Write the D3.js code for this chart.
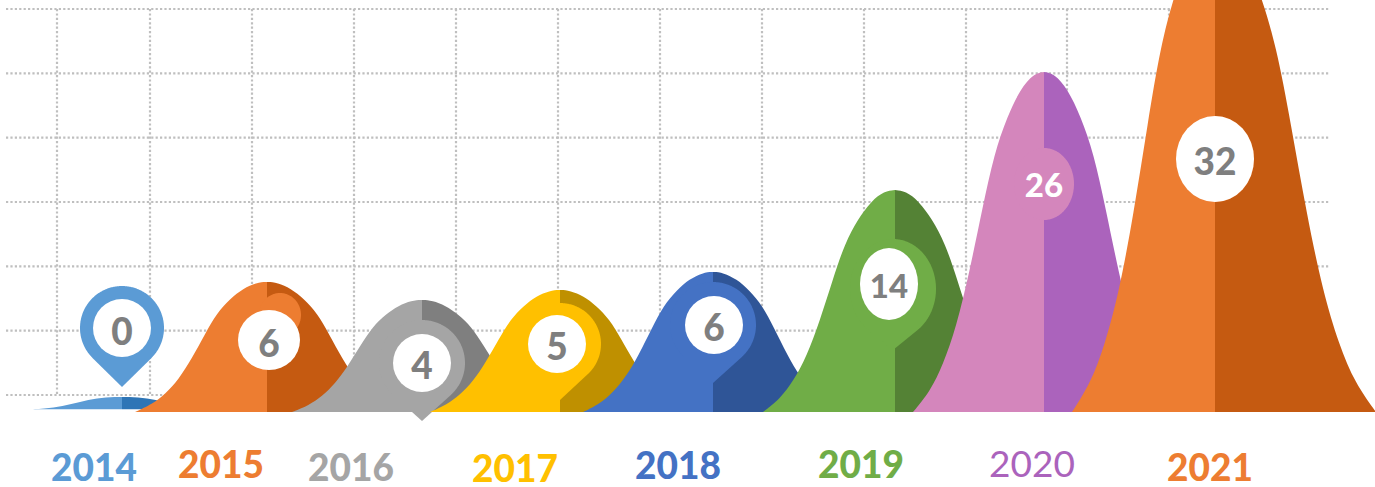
<!DOCTYPE html>
<html><head><meta charset="utf-8">
<script src="https://cdn.jsdelivr.net/npm/d3@7"></script>
<style>html,body{margin:0;padding:0;background:#fff;overflow:hidden}svg{display:block}text{font-family:Lato,"Open Sans",sans-serif}</style>
</head><body><svg id="c" width="1375" height="487"></svg>
<script>
const years = ["2014","2015","2016","2017","2018","2019","2020","2021"];
const values = [0,6,4,5,6,14,26,32];
// hump centre / half widths (page units) and peak height in grid steps
const humpCentres = [122,267,422,560,713,895,1044,1215];
const humpLeft = [89,132,130,130,130,132,131,143];
const humpRight = [89,132,130,130,130,132,131,161];
const humpPeaks = [-0.03,1.757,1.477,1.632,1.912,3.186,5.02,7.23];
const humpBases = [-0.22,-0.265,-0.265,-0.265,-0.265,-0.265,-0.265,-0.265];
const lightColours = ["#5B9BD5","#ED7D31","#A5A5A5","#FFC000","#4472C4","#70AD47","#D486BC","#ED7D31"];
const darkColours = ["#2E75B6","#C55A11","#7F7F7F","#BF9000","#2F5597","#548235","#AB63BC","#C55A11"];
// pin markers
const pinX = [122,280,422,560,713,893,1044,1215];
const pinY = [328,315,363,344,325,289,184,159];
const pinRx = [42,21,43,41,43,43,30,39];
const pinRy = [42,22,43,41,43,50,36,43];
const pinTip = [387,null,421,400,383,350,null,null];
const discX = [122,269,422,557,714,889,null,1215];
const discY = [328,340,363,344,325,284,null,159];
const discRx = [29,31,29,29,29,29,null,39];
const discRy = [29,30,29,29,29,36,null,43];
const valueX = [122,269,422,557,714,889,1044,1215];
const valueY = [330,342,364,345,326,285,184,160];
const valueSizes = [37,37,37,37,37,33,33,37];
const valueColours = ["#7F7F7F","#7F7F7F","#7F7F7F","#7F7F7F","#7F7F7F","#7F7F7F","#FFFFFF","#7F7F7F"];
// year labels
const labelX = [94,221,351,515,678,861,1032,1210];
const labelY = [481,478,481,482,479,478,477,481];
const labelColours = ["#5B9BD5","#ED7D31","#A5A5A5","#FFC000","#4472C4","#70AD47","#AB63BC","#ED7D31"];
const labelWeights = [900,900,900,900,900,900,400,900];
// hump outline control points: distance from centre vs. fraction of height
const profileT = [0,0.08,0.18,0.28,0.38,0.47,0.57,0.67,0.77,0.87,1];
const profileF = [1,0.995,0.95,0.87,0.76,0.60,0.41,0.25,0.14,0.06,0];
const gridTicks = [0,1,2,3,4,5,6];
const gridColumns = [57,150,252,354,456,558,660,762,864,966,1067,1169];

const svg = d3.select("#c");
const x = d3.scaleLinear().domain([0,1375]).range([0,1375]);
const y = d3.scaleLinear().domain([0,6]).range([395,9]);

const grid = svg.append("g").attr("stroke","#BFBFBF").attr("stroke-width",2.2).attr("stroke-dasharray","2.2 2.2").attr("fill","none");
grid.selectAll("line.h").data(gridTicks).join("line").attr("class","h")
  .attr("x1",x(6)).attr("x2",x(1330)).attr("y1",d=>y(d)).attr("y2",d=>y(d));
grid.selectAll("line.v").data(gridColumns).join("line").attr("class","v")
  .attr("x1",d=>x(d)).attr("x2",d=>x(d)).attr("y1",y(6)).attr("y2",y(0));

const half = (i,side)=>{
  const w = side<0?humpLeft[i]:humpRight[i];
  let pts = profileT.map((t,k)=>({x:humpCentres[i]+side*t*w, v:humpBases[i]+(humpPeaks[i]-humpBases[i])*profileF[k]}));
  if(side<0) pts = pts.reverse();
  return d3.area().x(d=>x(d.x)).y0(y(humpBases[i])).y1(d=>y(d.v)).curve(d3.curveBasis)(pts);
};
const pinPath = i=>{
  const cx=x(pinX[i]), cy=pinY[i], rx=pinRx[i], ry=pinRy[i], tip=pinTip[i];
  const a = tip==null?0:Math.acos(ry/(tip-cy));
  const angles = d3.range(0,241).map(k=>a+(2*Math.PI-2*a)*k/240);
  const pts = angles.map(t=>[cx+rx*Math.sin(t), cy+ry*Math.cos(t)]);
  if(tip!=null) pts.push([cx,tip]);
  return d3.line().curve(d3.curveLinearClosed)(pts);
};

years.forEach((yr,i)=>{
  const g = svg.append("g");
  g.append("path").attr("d",half(i,1)).attr("fill",darkColours[i]);
  g.append("path").attr("d",half(i,-1)).attr("fill",lightColours[i]);
  g.append("path").attr("d",pinPath(i)).attr("fill",lightColours[i]);
  if(discX[i]!=null) g.append("ellipse").attr("cx",x(discX[i])).attr("cy",discY[i]).attr("rx",discRx[i]).attr("ry",discRy[i]).attr("fill","#fff");
  g.append("text").attr("x",x(valueX[i])).attr("y",valueY[i]).attr("text-anchor","middle").attr("dominant-baseline","central")
    .attr("font-size",valueSizes[i]).attr("font-weight",900).attr("fill",valueColours[i]).text(values[i]);
});
svg.selectAll("text.year").data(years).join("text").attr("class","year")
  .attr("x",(d,i)=>x(labelX[i])).attr("y",(d,i)=>labelY[i]).attr("text-anchor","middle")
  .attr("font-size",37).attr("font-weight",(d,i)=>labelWeights[i]).attr("fill",(d,i)=>labelColours[i]).text(d=>d);
</script></body></html>
